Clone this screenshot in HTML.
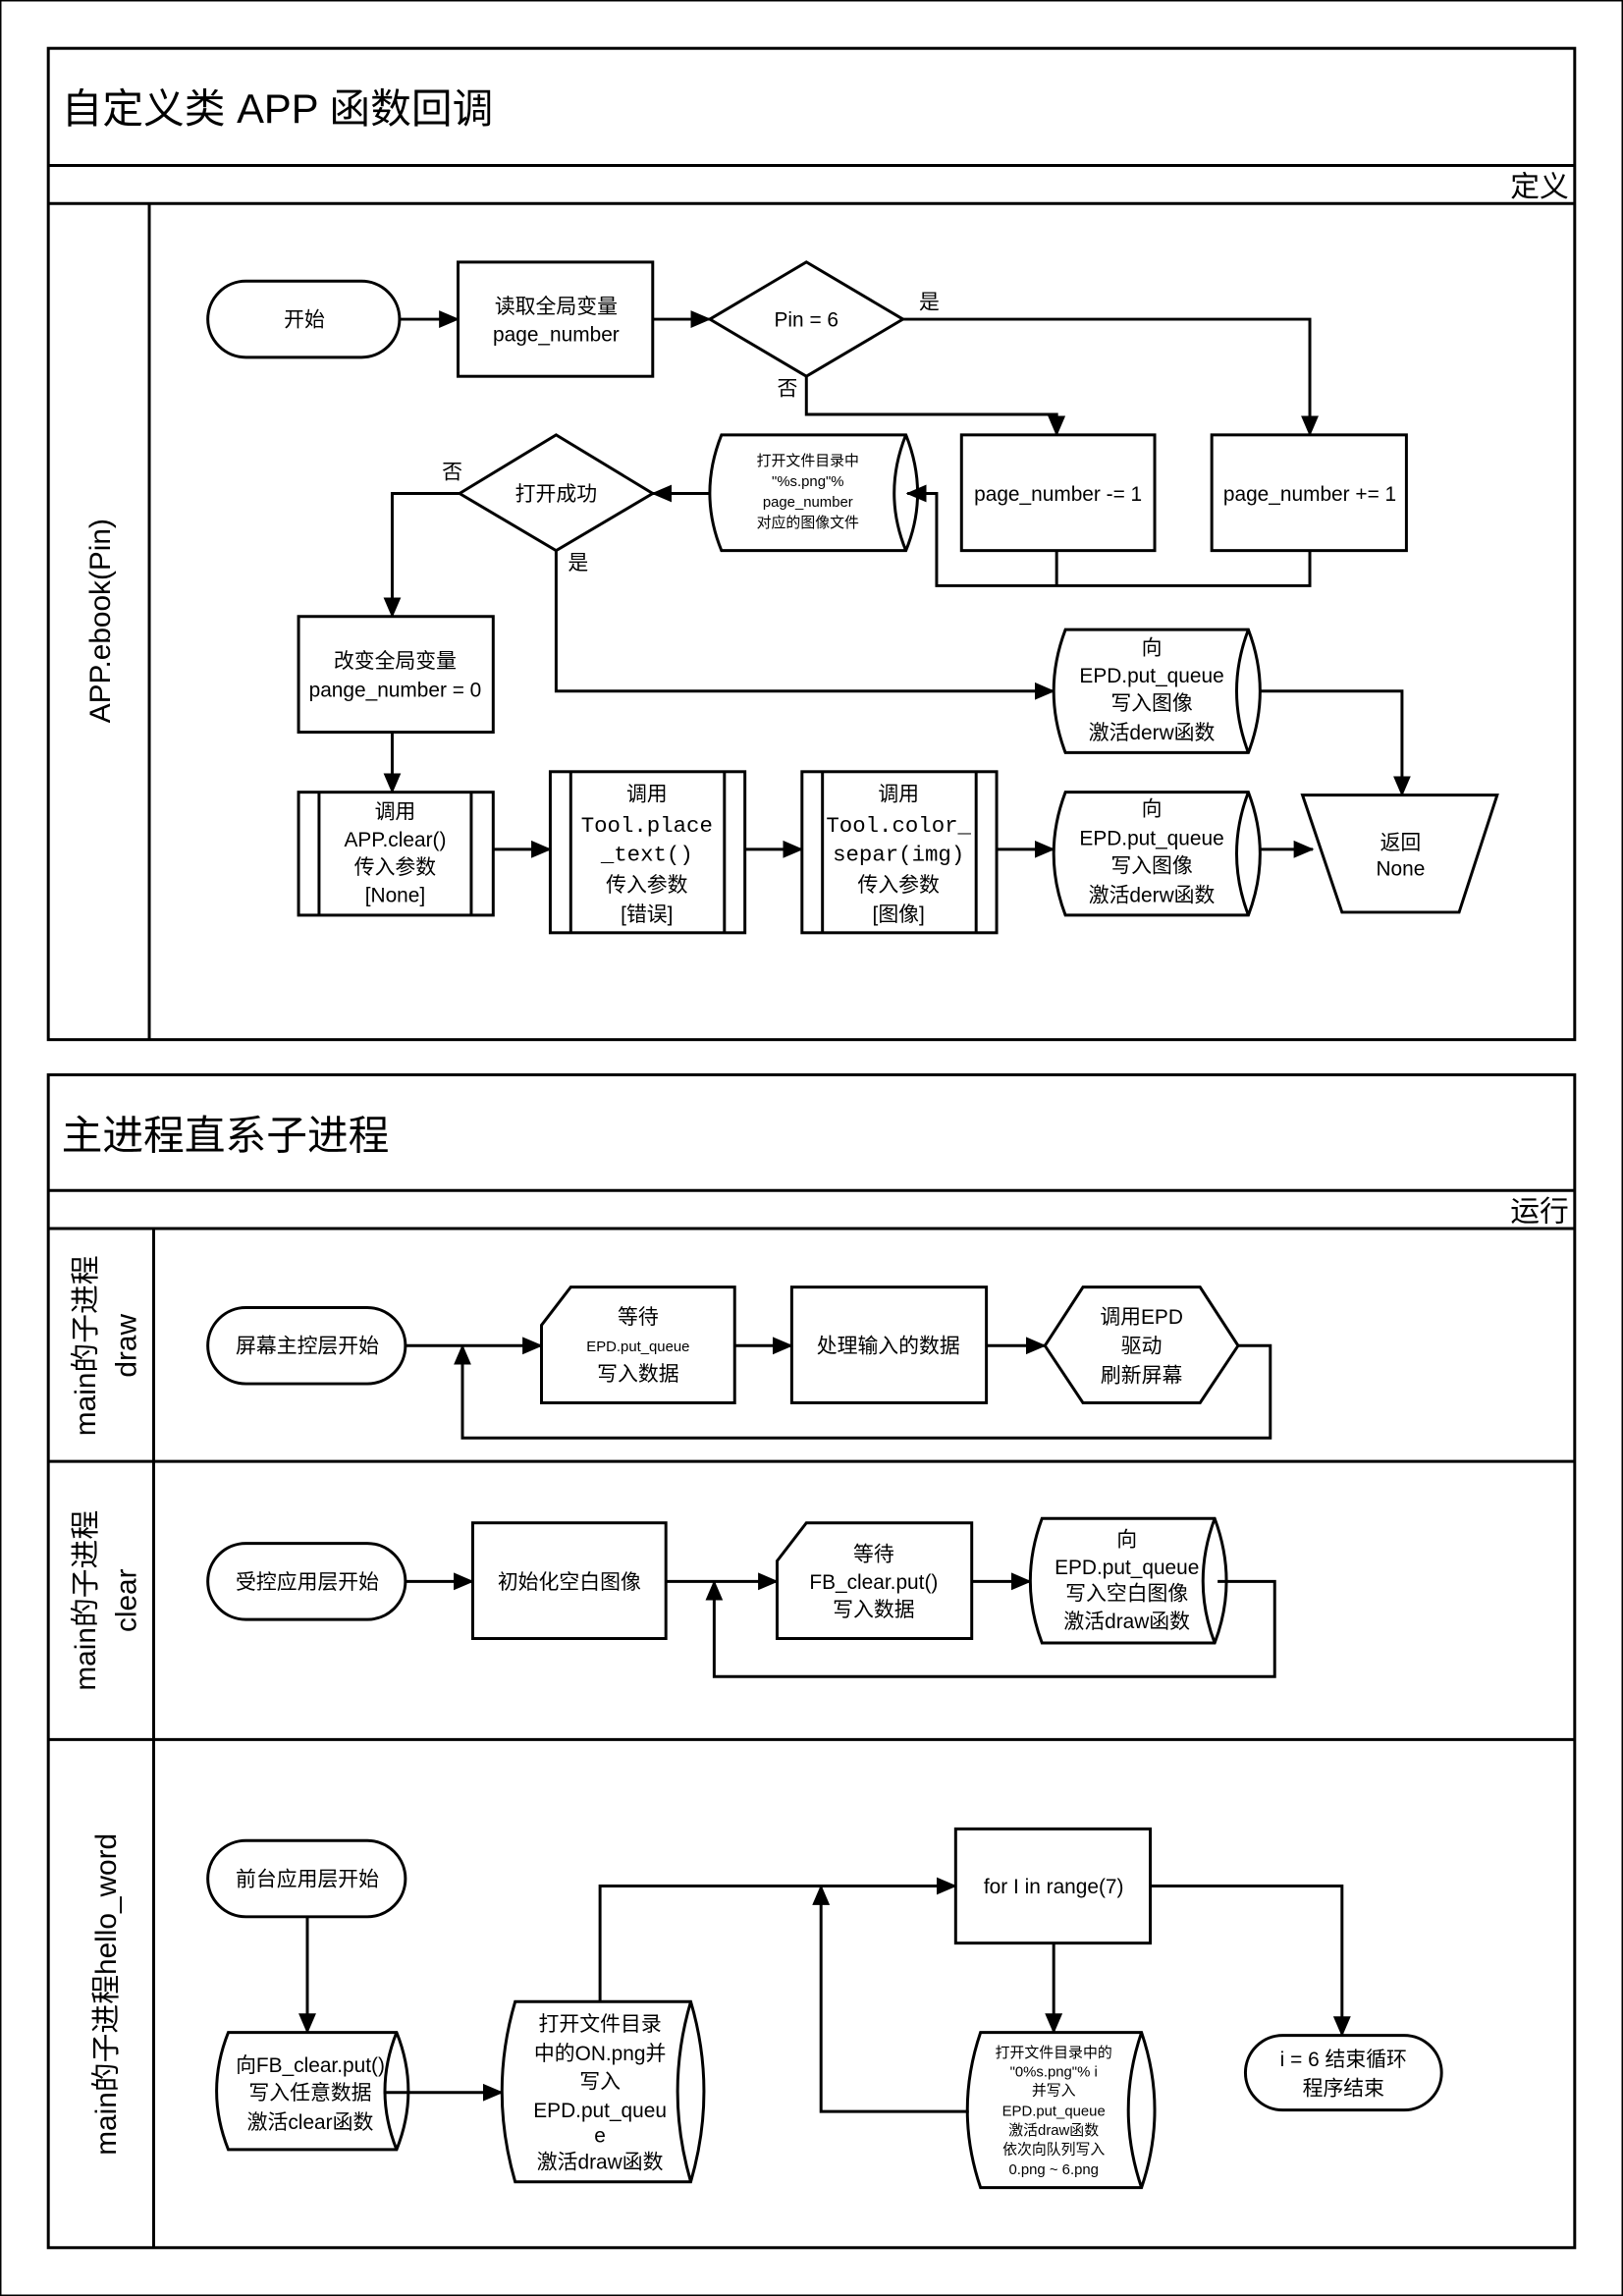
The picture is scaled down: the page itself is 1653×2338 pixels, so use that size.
<!DOCTYPE html>
<html><head><meta charset="utf-8"><style>
html,body{margin:0;padding:0;background:#fff}
svg{display:block}
text{font-family:"Liberation Sans","Noto Sans CJK SC",sans-serif;fill:#000}
.m{font-family:"Liberation Mono","Noto Sans CJK SC",monospace}
</style></head><body>
<svg width="1653" height="2338" viewBox="0 0 1109 1568" preserveAspectRatio="none" xmlns="http://www.w3.org/2000/svg">
<defs><marker id="a" markerUnits="userSpaceOnUse" markerWidth="14" markerHeight="14" refX="13" refY="7" orient="auto"><path d="M0,1 L14,7 L0,13 Z" fill="#000"/></marker></defs>
<rect x="0.5" y="0.5" width="1108" height="1567" fill="none" stroke="#000" stroke-width="1"/>
<g fill="none" stroke="#000" stroke-width="2">
<!-- Panel 1 -->
<rect x="33" y="33" width="1043" height="677"/>
<line x1="33" y1="113" x2="1076" y2="113"/>
<line x1="33" y1="139" x2="1076" y2="139"/>
<line x1="102" y1="139" x2="102" y2="710"/>
<!-- Panel 2 -->
<rect x="33" y="734" width="1043" height="801"/>
<line x1="33" y1="813" x2="1076" y2="813"/>
<line x1="33" y1="839" x2="1076" y2="839"/>
<line x1="105" y1="839" x2="105" y2="1535"/>
<line x1="33" y1="998" x2="1076" y2="998"/>
<line x1="33" y1="1188" x2="1076" y2="1188"/>

<!-- panel1 shapes -->
<rect x="142" y="192" width="131" height="52" rx="26"/>
<rect x="313" y="179" width="133" height="78"/>
<path d="M485,218 L551,179 L617,218 L551,257 Z"/>
<rect x="657" y="297" width="132" height="79"/>
<rect x="828" y="297" width="133" height="79"/>
<path d="M493,297 L619,297 Q635,337 619,376 L493,376 Q477,337 493,297 Z M619,297 Q603,337 619,376"/>
<path d="M314,337 L380,297 L446,337 L380,376 Z"/>
<rect x="204" y="421" width="133" height="79"/>
<rect x="204" y="541" width="133" height="84"/><line x1="218" y1="541" x2="218" y2="625"/><line x1="322" y1="541" x2="322" y2="625"/>
<rect x="376" y="527" width="133" height="110"/><line x1="390" y1="527" x2="390" y2="637"/><line x1="495" y1="527" x2="495" y2="637"/>
<rect x="548" y="527" width="133" height="110"/><line x1="562" y1="527" x2="562" y2="637"/><line x1="667" y1="527" x2="667" y2="637"/>
<path d="M728,430 L853,430 Q869,472 853,514 L728,514 Q712,472 728,430 Z M853,430 Q837,472 853,514"/>
<path d="M728,541 L853,541 Q869,583 853,625 L728,625 Q712,583 728,541 Z M853,541 Q837,583 853,625"/>
<path d="M890,543 L1023,543 L997,623 L917,623 Z"/>

<!-- panel1 connectors -->
<line x1="273" y1="218" x2="313" y2="218" marker-end="url(#a)"/>
<line x1="446" y1="218" x2="485" y2="218" marker-end="url(#a)"/>
<polyline points="617,218 895,218 895,297" marker-end="url(#a)"/>
<polyline points="551,257 551,283 722,283 722,297" marker-end="url(#a)"/>
<line x1="722" y1="376" x2="722" y2="400"/>
<polyline points="895,376 895,400 640,400 640,337 620,337" marker-end="url(#a)"/>
<line x1="485" y1="337" x2="446" y2="337" marker-end="url(#a)"/>
<polyline points="314,337 268,337 268,421" marker-end="url(#a)"/>
<polyline points="380,376 380,472 720,472" marker-end="url(#a)"/>
<line x1="268" y1="500" x2="268" y2="541" marker-end="url(#a)"/>
<line x1="337" y1="580" x2="376" y2="580" marker-end="url(#a)"/>
<line x1="509" y1="580" x2="548" y2="580" marker-end="url(#a)"/>
<line x1="681" y1="580" x2="720" y2="580" marker-end="url(#a)"/>
<line x1="861" y1="580" x2="897" y2="580" marker-end="url(#a)"/>
<polyline points="861,472 958,472 958,543" marker-end="url(#a)"/>

<!-- lane draw -->
<rect x="142" y="893" width="135" height="52" rx="26"/>
<path d="M370,905 L390,879 L502,879 L502,958 L370,958 Z"/>
<rect x="541" y="879" width="133" height="79"/>
<path d="M714,919 L740,879 L820,879 L846,919 L820,958 L740,958 Z"/>
<line x1="277" y1="919" x2="370" y2="919" marker-end="url(#a)"/>
<line x1="502" y1="919" x2="541" y2="919" marker-end="url(#a)"/>
<line x1="674" y1="919" x2="714" y2="919" marker-end="url(#a)"/>
<polyline points="846,919 868,919 868,982 316,982 316,919" marker-end="url(#a)"/>

<!-- lane clear -->
<rect x="142" y="1054" width="135" height="52" rx="26"/>
<rect x="323" y="1040" width="132" height="79"/>
<path d="M531,1066 L551,1040 L664,1040 L664,1119 L531,1119 Z"/>
<path d="M712,1037 L830,1037 Q846,1080 830,1122 L712,1122 Q696,1080 712,1037 Z M830,1037 Q814,1080 830,1122"/>
<line x1="277" y1="1080" x2="323" y2="1080" marker-end="url(#a)"/>
<line x1="455" y1="1080" x2="531" y2="1080" marker-end="url(#a)"/>
<line x1="664" y1="1080" x2="704" y2="1080" marker-end="url(#a)"/>
<polyline points="832,1080 871,1080 871,1145 488,1145 488,1080" marker-end="url(#a)"/>

<!-- lane hello -->
<rect x="142" y="1257" width="135" height="52" rx="26"/>
<line x1="210" y1="1309" x2="210" y2="1388" marker-end="url(#a)"/>
<path d="M156,1388 L271,1388 Q287,1428 271,1468 L156,1468 Q140,1428 156,1388 Z M271,1388 Q255,1428 271,1468"/>
<line x1="262" y1="1429" x2="343" y2="1429" marker-end="url(#a)"/>
<path d="M352,1367 L472,1367 Q490,1428 472,1490 L352,1490 Q334,1428 352,1367 Z M472,1367 Q454,1428 472,1490"/>
<polyline points="410,1367 410,1288 653,1288" marker-end="url(#a)"/>
<rect x="653" y="1249" width="133" height="78"/>
<line x1="720" y1="1327" x2="720" y2="1388" marker-end="url(#a)"/>
<path d="M670,1388 L780,1388 Q798,1441 780,1494 L670,1494 Q652,1441 670,1388 Z M780,1388 Q762,1441 780,1494"/>
<polyline points="662,1442 561,1442 561,1288" marker-end="url(#a)"/>
<polyline points="786,1288 917,1288 917,1390" marker-end="url(#a)"/>
<rect x="851" y="1390" width="134" height="51" rx="25.5"/>
</g>

<!-- titles -->
<text x="42" y="84" font-size="28">自定义类 APP 函数回调</text>
<text x="1072" y="134" font-size="20" text-anchor="end">定义</text>
<text x="42" y="785" font-size="28">主进程直系子进程</text>
<text x="1072" y="834" font-size="20" text-anchor="end">运行</text>
<text transform="translate(75,424) rotate(-90)" font-size="20" text-anchor="middle">APP.ebook(Pin)</text>
<text transform="translate(65,919) rotate(-90)" font-size="20" text-anchor="middle">main的子进程</text>
<text transform="translate(93,919) rotate(-90)" font-size="20" text-anchor="middle">draw</text>
<text transform="translate(65,1093) rotate(-90)" font-size="20" text-anchor="middle">main的子进程</text>
<text transform="translate(93,1093) rotate(-90)" font-size="20" text-anchor="middle">clear</text>
<text transform="translate(79,1362) rotate(-90)" font-size="20" text-anchor="middle">main的子进程hello_word</text>

<g font-size="14" text-anchor="middle">
<text x="208" y="223">开始</text>
<text x="380" y="214">读取全局变量</text>
<text x="380" y="233">page_number</text>
<text x="551" y="223">Pin = 6</text>
<text x="635" y="211">是</text>
<text x="538" y="270">否</text>
<text x="723" y="342">page_number -= 1</text>
<text x="895" y="342">page_number += 1</text>
<text x="380" y="342">打开成功</text>
<text x="309" y="327">否</text>
<text x="395" y="389">是</text>
<text x="270" y="456">改变全局变量</text>
<text x="270" y="476">pange_number = 0</text>
<text x="270" y="559">调用</text>
<text x="270" y="578">APP.clear()</text>
<text x="270" y="597">传入参数</text>
<text x="270" y="616">[None]</text>
<text x="442" y="547">调用</text>
<text x="442" y="568" class="m" font-size="15">Tool.place</text>
<text x="442" y="588" class="m" font-size="15">_text()</text>
<text x="442" y="609">传入参数</text>
<text x="442" y="629">[错误]</text>
<text x="614" y="547">调用</text>
<text x="614" y="568" class="m" font-size="15">Tool.color_</text>
<text x="614" y="588" class="m" font-size="15">separ(img)</text>
<text x="614" y="609">传入参数</text>
<text x="614" y="629">[图像]</text>
<text x="787" y="447">向</text>
<text x="787" y="466">EPD.put_queue</text>
<text x="787" y="485">写入图像</text>
<text x="787" y="505">激活derw函数</text>
<text x="787" y="557">向</text>
<text x="787" y="577">EPD.put_queue</text>
<text x="787" y="596">写入图像</text>
<text x="787" y="616">激活derw函数</text>
<text x="957" y="580">返回</text>
<text x="957" y="598">None</text>
<text x="210" y="924">屏幕主控层开始</text>
<text x="436" y="904">等待</text>
<text x="436" y="923" font-size="10">EPD.put_queue</text>
<text x="436" y="943">写入数据</text>
<text x="607" y="924">处理输入的数据</text>
<text x="780" y="904">调用EPD</text>
<text x="780" y="924">驱动</text>
<text x="780" y="944">刷新屏幕</text>
<text x="210" y="1085">受控应用层开始</text>
<text x="389" y="1085">初始化空白图像</text>
<text x="597" y="1066">等待</text>
<text x="597" y="1085">FB_clear.put()</text>
<text x="597" y="1104">写入数据</text>
<text x="770" y="1056">向</text>
<text x="770" y="1075">EPD.put_queue</text>
<text x="770" y="1093">写入空白图像</text>
<text x="770" y="1112">激活draw函数</text>
<text x="210" y="1288">前台应用层开始</text>
<text x="212" y="1415">向FB_clear.put()</text>
<text x="212" y="1434">写入任意数据</text>
<text x="212" y="1454">激活clear函数</text>
<text x="410" y="1387">打开文件目录</text>
<text x="410" y="1407">中的ON.png并</text>
<text x="410" y="1426">写入</text>
<text x="410" y="1446">EPD.put_queu</text>
<text x="410" y="1463">e</text>
<text x="410" y="1481">激活draw函数</text>
<text x="720" y="1293">for I in range(7)</text>
<text x="918" y="1411">i = 6 结束循环</text>
<text x="918" y="1431">程序结束</text>
</g>
<g font-size="10" text-anchor="middle">
<text x="552" y="318">打开文件目录中</text>
<text x="552" y="332">"%s.png"%</text>
<text x="552" y="346">page_number</text>
<text x="552" y="360">对应的图像文件</text>
<text x="720" y="1405">打开文件目录中的</text>
<text x="720" y="1418">"0%s.png"% i</text>
<text x="720" y="1431">并写入</text>
<text x="720" y="1445">EPD.put_queue</text>
<text x="720" y="1458">激活draw函数</text>
<text x="720" y="1471">依次向队列写入</text>
<text x="720" y="1485">0.png ~ 6.png</text>
</g>
</svg>
</body></html>
